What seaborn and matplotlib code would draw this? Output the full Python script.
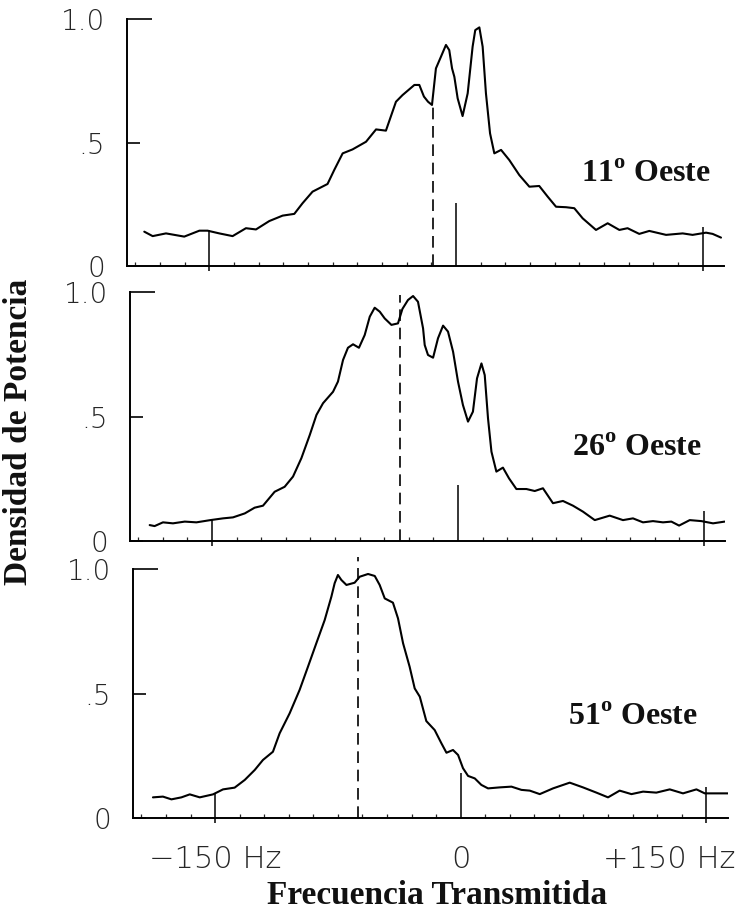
import numpy as np
import pandas as pd
import matplotlib
matplotlib.use('Agg')
import matplotlib.pyplot as plt
from matplotlib.ticker import MultipleLocator
from matplotlib.transforms import ScaledTranslation
import seaborn as sns

# ─── Datos (Hz, densidad normalizada) ─────────────────────────────
FREQ_11 = [-189.5, -184.4, -176.3, -165.2, -156, -151, -143.9, -135.8, -127.7, -121.6,
           -113.5, -105.4, -98.3, -93.3, -87.2, -78.1, -74, -68.9, -62.9, -54.7,
           -48.6, -42.6, -36.5, -32.5, -25.3, -22.3, -19.5, -17, -14.6, -12.2,
           -9.1, -6.1, -4.1, -2.4, -1.0, 1.0, 4.0, 7.1, 10.1, 11.7,
           14.2, 16.2, 18.2, 20.7, 23.3, 27.4, 32.4, 38.5, 44.6, 50.6,
           55.7, 60.8, 66.9, 71.9, 77, 85.1, 92.2, 99.3, 104.3, 111.4,
           117.5, 127.7, 137.8, 143.8, 152, 156, 161.1]
DENS_11 = [0.139, 0.121, 0.132, 0.119, 0.143, 0.143, 0.132, 0.121, 0.153, 0.148,
           0.182, 0.204, 0.211, 0.254, 0.301, 0.332, 0.389, 0.456, 0.472, 0.503,
           0.553, 0.548, 0.665, 0.692, 0.733, 0.733, 0.686, 0.665, 0.652, 0.800,
           0.848, 0.895, 0.874, 0.800, 0.766, 0.679, 0.607, 0.699, 0.888, 0.955,
           0.966, 0.888, 0.699, 0.537, 0.456, 0.470, 0.429, 0.368, 0.321, 0.324,
           0.281, 0.240, 0.238, 0.234, 0.193, 0.146, 0.173, 0.146, 0.153, 0.130,
           0.142, 0.126, 0.132, 0.126, 0.135, 0.130, 0.115]

FREQ_26 = [-188, -185, -179.9, -173.8, -166.6, -159.5, -151, -143.3, -137.2, -130,
           -124, -118.9, -111.8, -105.7, -100.6, -95.5, -90.4, -86.3, -82.3, -76.2,
           -73.2, -70.1, -67.1, -64, -60.4, -56.9, -53.8, -50.8, -47.7, -44.7,
           -40.6, -36.6, -33.9, -30.5, -27.4, -24.4, -21.3, -20.3, -18.3, -15.2,
           -12.2, -9.1, -6.1, -3.0, 0, 3.0, 6.1, 9.1, 11.6, 14.3,
           16.3, 18.3, 20.4, 23.4, 27.4, 31.1, 35.6, 41.7, 46.8, 51.8,
           57.9, 64, 70.1, 76.2, 83.4, 92.5, 100.6, 106.7, 112.8, 118.9,
           125, 130.1, 134.8, 141.3, 148.4, 155.5, 162.6]
DENS_26 = [0.064, 0.060, 0.075, 0.071, 0.078, 0.075, 0.084, 0.091, 0.095, 0.111,
           0.134, 0.142, 0.198, 0.218, 0.259, 0.333, 0.426, 0.507, 0.554, 0.600,
           0.641, 0.728, 0.777, 0.791, 0.777, 0.828, 0.902, 0.938, 0.922, 0.895,
           0.869, 0.875, 0.933, 0.969, 0.985, 0.962, 0.855, 0.788, 0.748, 0.737,
           0.815, 0.866, 0.842, 0.761, 0.641, 0.547, 0.480, 0.520, 0.654, 0.714,
           0.667, 0.493, 0.359, 0.279, 0.295, 0.252, 0.209, 0.209, 0.201, 0.212,
           0.152, 0.161, 0.142, 0.118, 0.084, 0.102, 0.084, 0.091, 0.075, 0.080,
           0.075, 0.078, 0.062, 0.084, 0.080, 0.071, 0.078]

FREQ_51 = [-188, -181.9, -176.7, -170.6, -165.5, -159.4, -151.3, -145.2, -138.1, -131.9,
           -125.8, -120.8, -114.7, -110.6, -104.5, -98.4, -93.3, -88.2, -83.1, -79,
           -77, -75, -72.9, -69.8, -64.8, -61.7, -56.6, -52.5, -49.5, -46.4,
           -41.4, -38.3, -35.2, -31.2, -28.1, -25, -21, -15.9, -11.8, -8.7,
           -4.7, -1.6, 1.4, 4.5, 8.6, 12.6, 16.7, 23.8, 31, 37.1,
           42.2, 48.3, 56.4, 66.6, 74.7, 82.9, 90, 97.1, 104.3, 111.4,
           119.5, 127.7, 135.8, 144, 149.1, 156.2, 163.3]
DENS_51 = [0.084, 0.087, 0.076, 0.084, 0.096, 0.084, 0.096, 0.116, 0.123, 0.154,
           0.194, 0.234, 0.267, 0.341, 0.421, 0.515, 0.608, 0.702, 0.795, 0.889,
           0.943, 0.976, 0.956, 0.936, 0.945, 0.969, 0.980, 0.972, 0.936, 0.882,
           0.865, 0.802, 0.702, 0.608, 0.521, 0.488, 0.390, 0.354, 0.301, 0.263,
           0.274, 0.254, 0.201, 0.170, 0.160, 0.134, 0.120, 0.124, 0.127, 0.114,
           0.111, 0.097, 0.120, 0.143, 0.124, 0.103, 0.084, 0.111, 0.097, 0.107,
           0.103, 0.116, 0.100, 0.116, 0.100, 0.100, 0.100]

PANELS = ['11', '26', '51']
LABEL_HZ = [155, 149, 145]          # borde derecho del rótulo
LABEL_Y = [0.34, 0.34, 0.375]
DASH_HZ = [-14, -35.5, -62.7]       # frecuencia media (línea de trazos)
DASH_TOP = [0.66, 0.99, 1.05]
REF_HZ = [-150, 0, 150]
REF_TOP = [[0.146, 0.254, 0.159],
           [0.084, 0.225, 0.120],
           [0.096, 0.183, 0.127]]
XTICK_LABELS = ['\u2212150 Hz', '0', '+150 Hz']
YTICK_MAJOR = [1.0]
YTICK_MAJOR_LABELS = ['1.0']
YTICK_MINOR = [0, 0.5]
YTICK_MINOR_LABELS = ['0', '.5']

df = pd.concat([
    pd.DataFrame({'freq': FREQ_11, 'dens': DENS_11, 'panel': '11'}),
    pd.DataFrame({'freq': FREQ_26, 'dens': DENS_26, 'panel': '26'}),
    pd.DataFrame({'freq': FREQ_51, 'dens': DENS_51, 'panel': '51'}),
])

sns.set_style('white')
plt.rcParams['font.family'] = ['DejaVu Sans']
plt.rcParams['mathtext.fontset'] = 'custom'
plt.rcParams['mathtext.rm'] = 'Liberation Serif'
plt.rcParams['mathtext.bf'] = 'Liberation Serif:bold'

W, H = 735, 916
fig = plt.figure(figsize=(W / 100, H / 100), dpi=100)

XLIM = (-200, 163)
YTOP = 1.06
# posición en píxeles: borde izq., eje cero, px por Hz, px por unidad
geom = [(127, 266, 1.645, 247), (130, 541, 1.64, 248.7), (133.3, 818.3, 1.637, 249.3)]

serif = 'Liberation Serif'
for i, p in enumerate(PANELS):
    left, y0, pxhz, pxu = geom[i]
    wpx = (XLIM[1] - XLIM[0]) * pxhz
    hpx = YTOP * pxu
    ax = fig.add_axes([left / W, 1 - y0 / H, wpx / W, hpx / H])
    sub = df[df['panel'] == p]
    sns.lineplot(data=sub, x='freq', y='dens', color='black', lw=1.5,
                 estimator=None, sort=False, ax=ax)
    ax.set_xlim(*XLIM)
    ax.set_ylim(0, YTOP)

    # líneas de referencia -150, 0, +150
    for hz, top in zip(REF_HZ, REF_TOP[i]):
        lo = 0 if hz == 0 else -0.02
        ax.vlines(hz, lo, top, color='black', lw=1.1, clip_on=False)
    ax.vlines(DASH_HZ[i], 0, DASH_TOP[i], color='black', lw=1.2,
              linestyles=(0, (7, 4)), clip_on=False)

    ax.text(LABEL_HZ[i], LABEL_Y[i], f'{p}$^{{\\mathbf{{o}}}}$ Oeste',
            ha='right', va='baseline', fontsize=23, family=serif,
            fontweight='bold', color='#111111')

    for s in ['top', 'right']:
        ax.spines[s].set_visible(False)
    ax.spines['left'].set_bounds(0, 1)
    for s in ['left', 'bottom']:
        ax.spines[s].set_linewidth(1.4)
        ax.spines[s].set_color('black')

    ax.set_yticks(YTICK_MAJOR, labels=YTICK_MAJOR_LABELS)
    ax.set_yticks(YTICK_MINOR, labels=YTICK_MINOR_LABELS, minor=True)
    ax.tick_params(axis='y', which='major', direction='in', length=18,
                   width=1.4, pad=16, labelsize=20, left=True)
    ax.tick_params(axis='y', which='minor', direction='in', length=9,
                   width=1.4, pad=16, labelsize=20, left=True)
    for lab in ax.get_yticklabels(which='both'):
        lab.set_fontweight('light')

    ax.set_xticks(REF_HZ)
    ax.xaxis.set_minor_locator(MultipleLocator(15))
    ax.tick_params(axis='x', which='major', length=0, pad=19, labelsize=22)
    ax.tick_params(axis='x', which='minor', direction='in', length=3,
                   width=0.9, bottom=True)
    if i < 2:
        ax.set_xticklabels([])
    else:
        ax.set_xticklabels(XTICK_LABELS)
        labs = ax.get_xticklabels()
        for lab in labs:
            lab.set_fontweight('light')
        labs[2].set_ha('right')
        labs[2].set_transform(labs[2].get_transform() +
                              ScaledTranslation(0.29, 0, fig.dpi_scale_trans))
    ax.set_xlabel('')
    ax.set_ylabel('')

fig.text(437 / W, 1 - 895 / H, 'Frecuencia Transmitida', ha='center', va='center',
         fontsize=24, family=serif, fontweight='bold', color='#111111')
fig.text(19 / W, 1 - 432 / H, 'Densidad de Potencia', ha='center', va='center',
         rotation=90, fontsize=24, family=serif, fontweight='bold', color='#111111')

fig.savefig('out.png', dpi=100)
